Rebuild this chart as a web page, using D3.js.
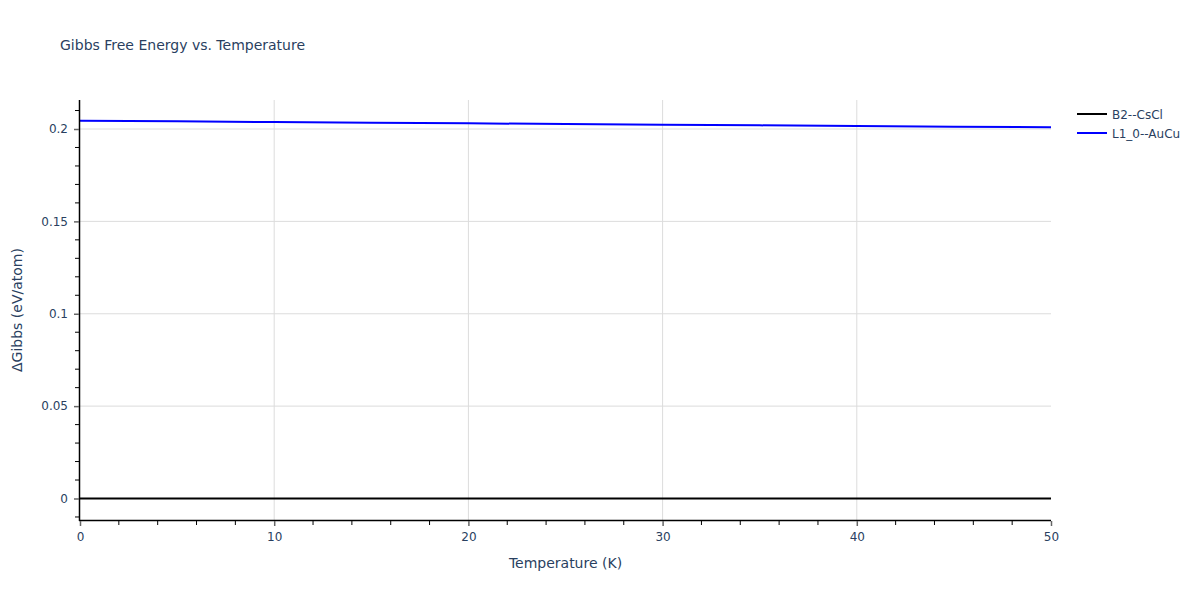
<!DOCTYPE html>
<html><head><meta charset="utf-8">
<script src="https://cdn.jsdelivr.net/npm/d3@7"></script>
<style>body{margin:0;background:#fff;}svg{font-family:"DejaVu Sans",verdana,sans-serif;}</style>
</head><body><svg id="c" width="1200" height="600"></svg>
<script>
const temps = [0, 5, 10, 15, 20, 25, 30, 35, 40, 45, 50];
const b2Values = [0, 0, 0, 0, 0, 0, 0, 0, 0, 0, 0];
const l10Values = [0.2045, 0.20414, 0.20378, 0.20342, 0.20306, 0.2027, 0.20234, 0.20198, 0.20162, 0.20126, 0.2009];
const seriesNames = ["B2--CsCl", "L1_0--AuCu"];
const seriesColors = ["#000000", "#0000ff"];
const xTicks = [0, 10, 20, 30, 40, 50];
const yTicks = [0, 0.05, 0.1, 0.15, 0.2];
const xMinor = d3.range(0, 50.001, 2);
const yMinor = d3.range(-0.01, 0.2151, 0.01);

const L = 80, R = 1051, T = 100, B = 520;
const FONT = "'DejaVu Sans',verdana,sans-serif";
const svg = d3.select("#c");
const x = d3.scaleLinear().domain([0, 50]).range([L, R]);
const y = d3.scaleLinear().domain([-0.01164, 0.2157]).range([B, T]);
const txt = "#2a3f5f";

// grid
svg.append("g").selectAll("line").data(xTicks.filter(d => d > 0 && d < 50)).join("line")
  .attr("x1", d => x(d)).attr("x2", d => x(d)).attr("y1", T).attr("y2", B)
  .attr("stroke", "#dcdcdc").attr("stroke-width", 1);
svg.append("g").selectAll("line").data(yTicks.filter(d => d > 0)).join("line")
  .attr("x1", L).attr("x2", R).attr("y1", d => y(d)).attr("y2", d => y(d))
  .attr("stroke", "#dcdcdc").attr("stroke-width", 1);

// lines
const line = d3.line().x(d => x(d[0])).y(d => y(d[1]));
const series = [b2Values, l10Values];
series.forEach((vals, i) => {
  svg.append("path").datum(temps.map((t, j) => [t, vals[j]]))
    .attr("d", line).attr("fill", "none").attr("stroke", seriesColors[i]).attr("stroke-width", 2);
});

// axes lines
svg.append("line").attr("x1", L - 0.5).attr("x2", L - 0.5).attr("y1", T).attr("y2", B + 1).attr("stroke", "#000").attr("stroke-width", 1.5);
svg.append("line").attr("x1", L - 1).attr("x2", R).attr("y1", B + 0.5).attr("y2", B + 0.5).attr("stroke", "#000").attr("stroke-width", 1.5);

// minor ticks
svg.append("g").selectAll("line").data(xMinor.filter(d => !xTicks.includes(d))).join("line")
  .attr("x1", d => x(d)).attr("x2", d => x(d)).attr("y1", B + 1).attr("y2", B + 5)
  .attr("stroke", "#000").attr("stroke-width", 1);
svg.append("g").selectAll("line").data(yMinor.filter(d => !yTicks.some(t => Math.abs(t - d) < 1e-6))).join("line")
  .attr("x1", L - 5).attr("x2", L - 1).attr("y1", d => y(d)).attr("y2", d => y(d))
  .attr("stroke", "#000").attr("stroke-width", 1);

// major ticks via d3 axes
const xAxis = d3.axisBottom(x).tickValues(xTicks).tickFormat(d3.format("d")).tickSize(5).tickPadding(6);
const gx = svg.append("g").attr("transform", `translate(0,${B + 1})`).call(xAxis);
gx.select(".domain").remove();
gx.selectAll(".tick line").attr("stroke", "#666").attr("stroke-width", 1.5);
gx.selectAll(".tick text").attr("fill", txt).attr("font-size", 12).style("font-family", FONT);

const yAxis = d3.axisLeft(y).tickValues(yTicks).tickFormat(d => d === 0 ? "0" : String(+d.toFixed(2))).tickSize(5).tickPadding(6);
const gy = svg.append("g").attr("transform", `translate(${L - 1},0)`).call(yAxis);
gy.select(".domain").remove();
gy.selectAll(".tick line").attr("stroke", "#666").attr("stroke-width", 1.5);
gy.selectAll(".tick text").attr("fill", txt).attr("font-size", 12).style("font-family", FONT);

// titles
svg.append("text").attr("x", 60).attr("y", 50).attr("fill", txt).attr("font-size", 14).text("Gibbs Free Energy vs. Temperature");
svg.append("text").attr("x", (L + R) / 2).attr("y", 568).attr("text-anchor", "middle").attr("fill", txt).attr("font-size", 14).text("Temperature (K)");
svg.append("text").attr("transform", `translate(22,${(T + B) / 2}) rotate(-90)`).attr("text-anchor", "middle").attr("fill", txt).attr("font-size", 14).text("ΔGibbs (eV/atom)");

// legend
const lg = svg.append("g").attr("transform", "translate(1077,114)");
seriesNames.forEach((n, i) => {
  const g = lg.append("g").attr("transform", `translate(0,${i * 19})`);
  g.append("line").attr("x1", 0).attr("x2", 30).attr("y1", 0).attr("y2", 0).attr("stroke", seriesColors[i]).attr("stroke-width", 2);
  g.append("text").attr("x", 35).attr("y", 4.5).attr("fill", txt).attr("font-size", 12).text(n);
});
</script></body></html>
